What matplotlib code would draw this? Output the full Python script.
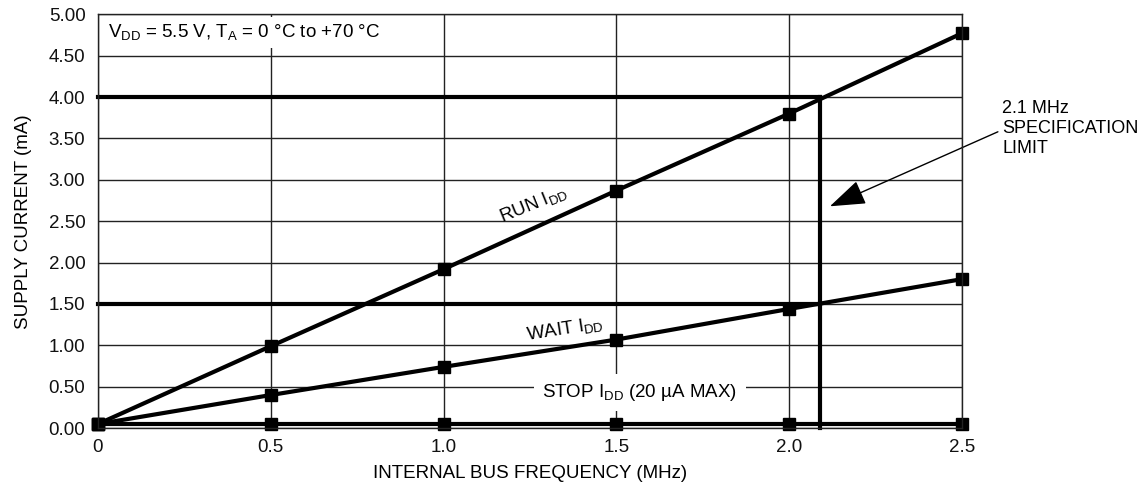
import matplotlib
matplotlib.use('Agg')
import matplotlib.pyplot as plt

plt.rcParams['font.family'] = ['Liberation Sans', 'DejaVu Sans']
plt.rcParams['mathtext.fontset'] = 'custom'
plt.rcParams['mathtext.rm'] = 'Liberation Sans'
plt.rcParams['mathtext.it'] = 'Liberation Sans'

# data
freq = [0.0, 0.5, 1.0, 1.5, 2.0, 2.5]
run_idd = [0.05, 0.99, 1.92, 2.87, 3.80, 4.77]
wait_idd = [0.05, 0.40, 0.74, 1.07, 1.44, 1.80]
stop_idd = [0.05, 0.05, 0.05, 0.05, 0.05, 0.05]

spec_freq = 2.09
run_limit = 4.00
wait_limit = 1.50

xticks = [0.0, 0.5, 1.0, 1.5, 2.0, 2.5]
xticklabels = ['0', '0.5', '1.0', '1.5', '2.0', '2.5']
yticks = [0.0, 0.5, 1.0, 1.5, 2.0, 2.5, 3.0, 3.5, 4.0, 4.5, 5.0]
yticklabels = ['%.2f' % v for v in yticks]

fs = 13.5

fig = plt.figure(figsize=(11.43, 4.91), dpi=100)
ax = fig.add_axes([0.0857, 0.128, 0.7559, 0.843])
ax.set_xlim(0, 2.5)
ax.set_ylim(0, 5.0)

ax.set_xticks(xticks)
ax.set_xticklabels(xticklabels)
ax.set_yticks(yticks)
ax.set_yticklabels(yticklabels)
ax.tick_params(length=0, labelsize=fs, colors='#111111')
ax.tick_params(axis='x', pad=8)
ax.tick_params(axis='y', pad=9)
ax.grid(True, color='#222222', lw=1.0, zorder=0)
ax.set_axisbelow(True)
for s in ax.spines.values():
    s.set_color('#222222')
    s.set_linewidth(1.0)
    s.set_zorder(6)

# limit lines
ax.plot([0, spec_freq], [run_limit, run_limit], color='black', lw=3, zorder=3, clip_on=False)
ax.plot([0, spec_freq], [wait_limit, wait_limit], color='black', lw=3, zorder=3, clip_on=False)
ax.plot([spec_freq, spec_freq], [0, run_limit], color='black', lw=3, zorder=3, clip_on=False)

for ys in [run_idd, wait_idd, stop_idd]:
    ax.plot(freq, ys, color='black', lw=3, marker='s', markersize=8,
            zorder=4, clip_on=False)

ax.text(1.259, 2.70, r'RUN I$_\mathrm{DD}$', rotation=22, fontsize=fs,
        ha='center', va='center', rotation_mode='anchor', zorder=5)
ax.text(1.351, 1.20, r'WAIT I$_\mathrm{DD}$', rotation=9, fontsize=fs,
        ha='center', va='center', rotation_mode='anchor', zorder=5)
ax.text(1.568, 0.43, r'STOP I$_\mathrm{DD}$ (20 µA MAX)', fontsize=fs,
        ha='center', va='center', zorder=5,
        bbox=dict(facecolor='white', edgecolor='none', pad=6))

ax.text(0.03, 4.78, r'V$_\mathrm{DD}$ = 5.5 V, T$_\mathrm{A}$ = 0 °C to +70 °C',
        fontsize=fs, ha='left', va='center', zorder=5,
        bbox=dict(facecolor='white', edgecolor='none', pad=4))

ax.text(2.616, 3.97, '2.1 MHz\nSPECIFICATION\nLIMIT', fontsize=13,
        ha='left', va='top', linespacing=1.25, clip_on=False)
ax.annotate('', xy=(2.118, 2.68), xytext=(2.604, 3.58),
            arrowprops=dict(arrowstyle='-|>,head_length=0.8,head_width=0.28',
                            color='black', lw=1, mutation_scale=28,
                            shrinkA=0, shrinkB=0),
            annotation_clip=False)

ax.set_xlabel('INTERNAL BUS FREQUENCY (MHz)', fontsize=fs, labelpad=6)
ax.set_ylabel('SUPPLY CURRENT (mA)', fontsize=fs, labelpad=12)

fig.savefig('out.png', dpi=100)
